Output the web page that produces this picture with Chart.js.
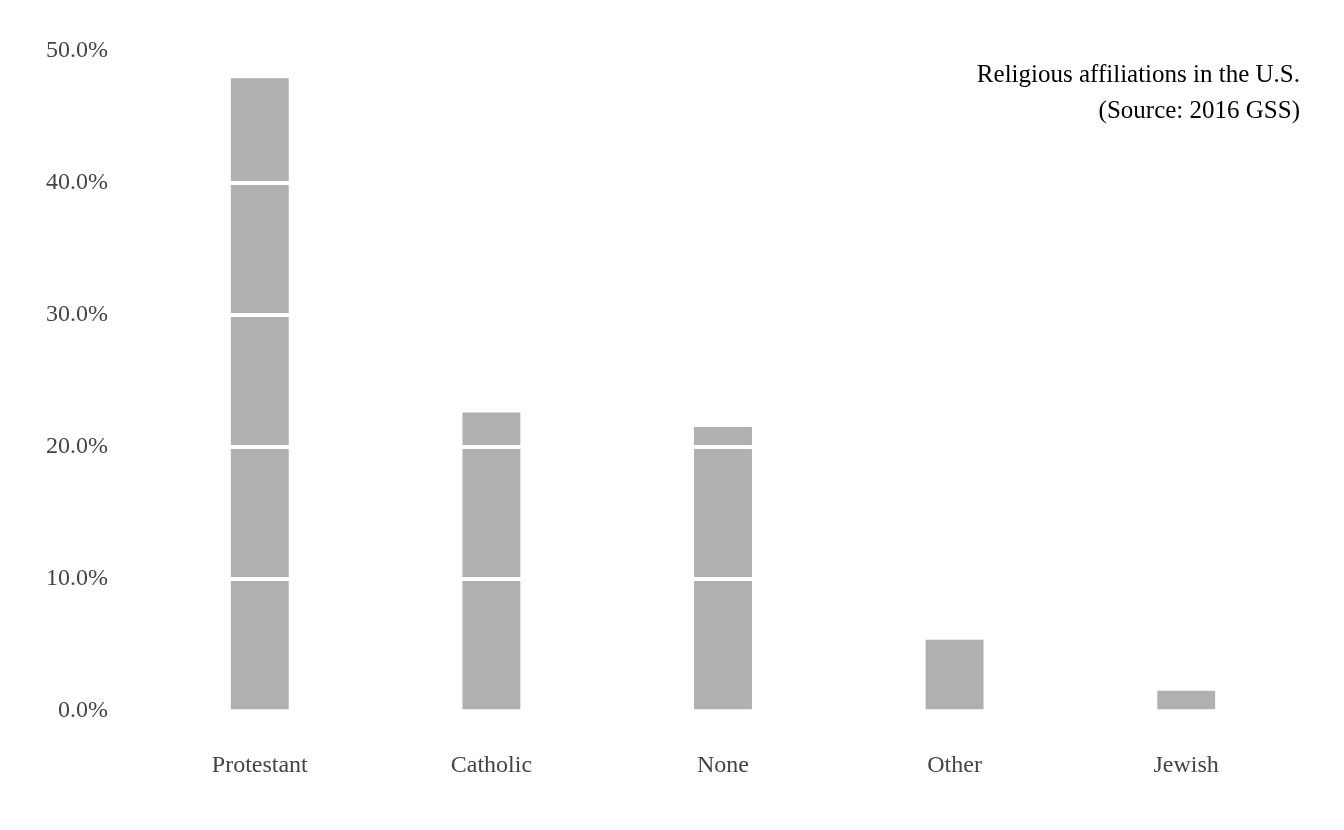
<!DOCTYPE html>
<html>
<head>
<meta charset="utf-8">
<script src="https://cdn.jsdelivr.net/npm/chart.js@4"></script>
<style>
  html, body { margin: 0; padding: 0; background: #fff; }
  #wrap { position: relative; width: 1344px; height: 830px; }
  #titulo {
    position: absolute; right: 44px; top: 56px; text-align: right;
    font-family: 'Liberation Serif', serif; font-size: 25px; line-height: 36px; color: #000;
  }
</style>
</head>
<body>
<div id="wrap">
  <canvas id="grafico" width="1344" height="830"></canvas>
  <div id="titulo">Religious affiliations in the U.S.<br>(Source: 2016 GSS)</div>
</div>
<script>
// Afiliación religiosa, GSS 2016 (porcentajes)
const categorias = ['Protestant', 'Catholic', 'None', 'Other', 'Jewish']
const porcentajes = [47.9, 22.6, 21.5, 5.4, 1.55]

new Chart(document.getElementById('grafico'), {
  type: 'bar',
  data: {
    labels: categorias,
    datasets: [{
      data: porcentajes,
      backgroundColor: '#b0b0b0',
      barPercentage: 0.25,
      categoryPercentage: 1
    }]
  },
  options: {
    responsive: false,
    animation: false,
    layout: { padding: { top: 40, right: 42, bottom: 10, left: 10 } },
    plugins: { legend: { display: false }, tooltip: { enabled: false } },
    scales: {
      y: {
        min: 0, max: 50,
        ticks: {
          stepSize: 10,
          color: '#444',
          padding: 36,
          font: { family: "'Liberation Serif', serif", size: 24 },
          callback: v => v.toFixed(1) + '%'
        },
        grid: {
          z: 1,
          color: ctx => (ctx.tick.value > 0 && ctx.tick.value < 50) ? '#fff' : 'rgba(0,0,0,0)',
          lineWidth: 4,
          drawTicks: false
        },
        border: { display: false }
      },
      x: {
        ticks: {
          color: '#444',
          padding: 40,
          font: { family: "'Liberation Serif', serif", size: 24 }
        },
        grid: { display: false, drawTicks: false },
        border: { display: false }
      }
    }
  }
})
</script>
</body>
</html>
